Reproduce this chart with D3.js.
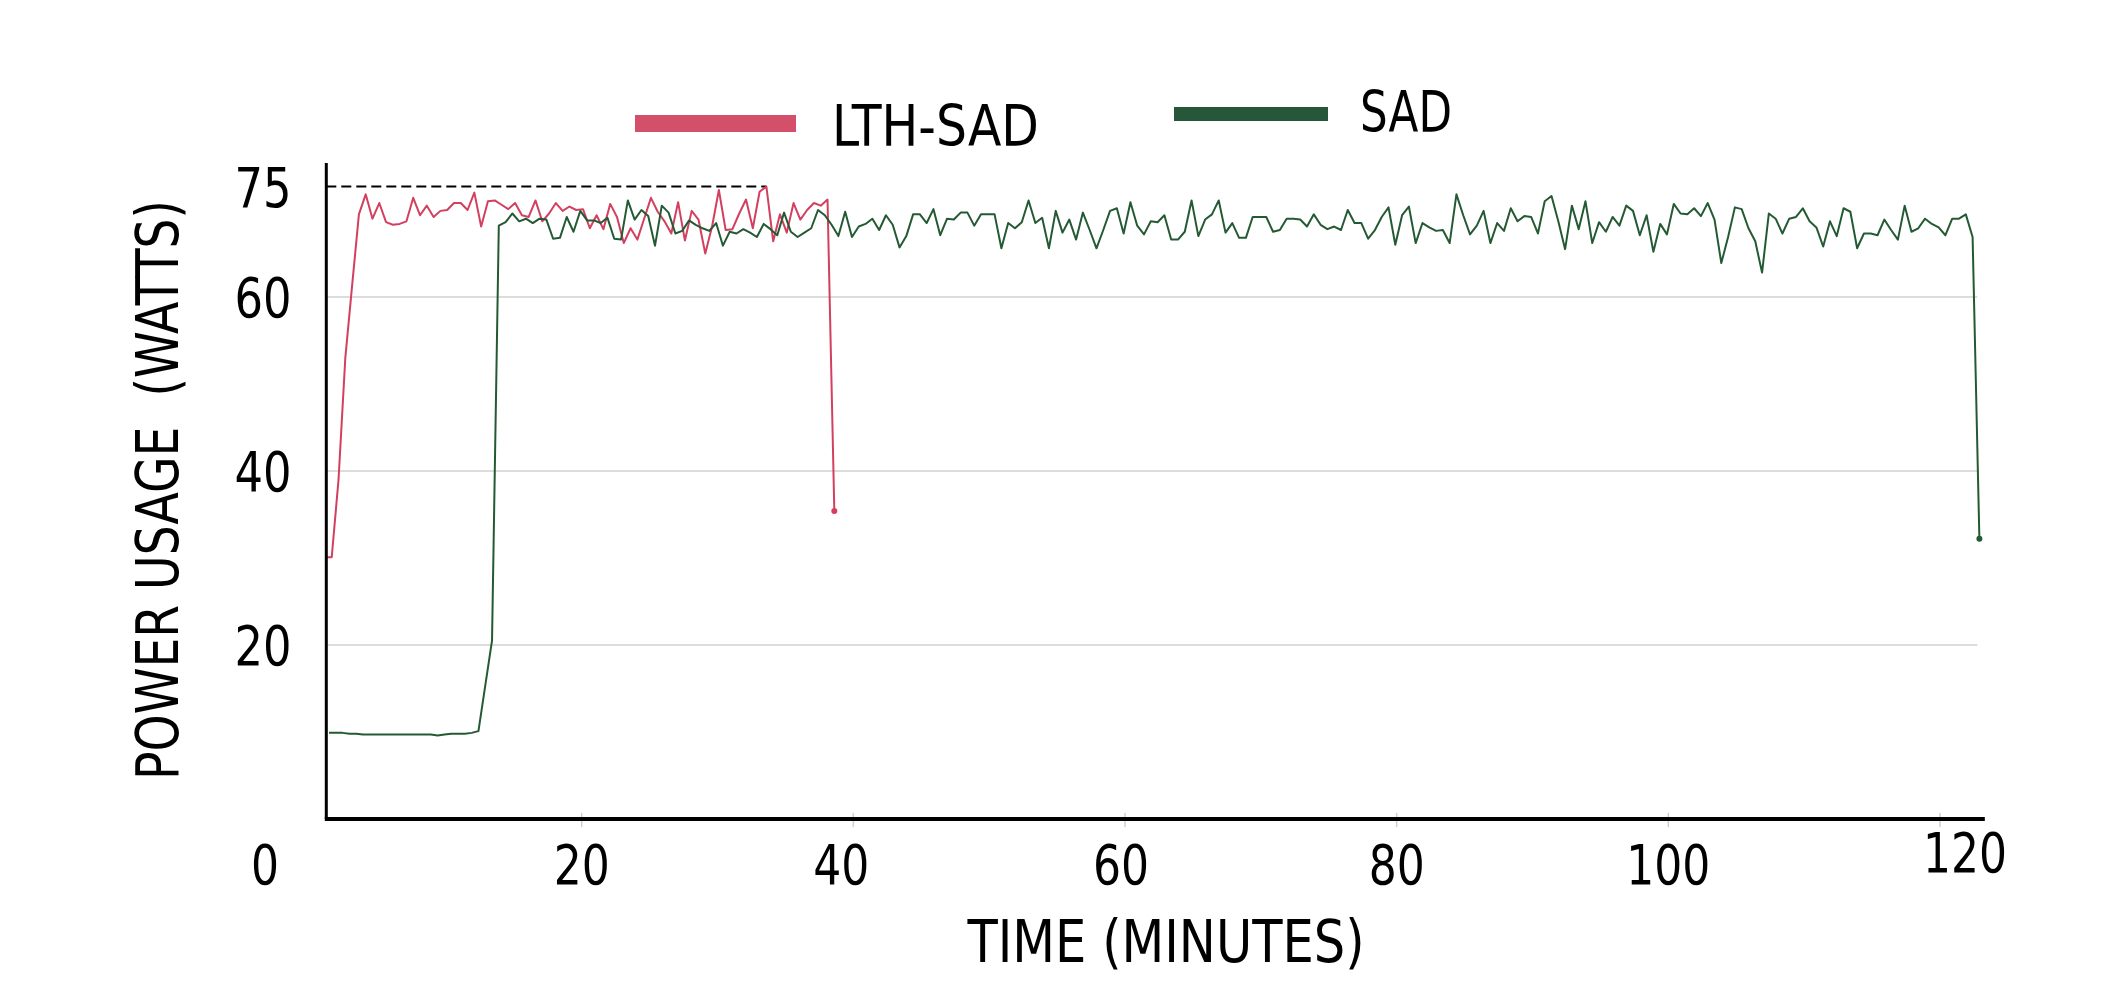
<!DOCTYPE html>
<html>
<head>
<meta charset="utf-8">
<script src="https://cdn.jsdelivr.net/npm/d3@7"></script>
<style>
  body { margin: 0; background: #fff; }
  text { fill: #000; }
</style>
</head>
<body>
<div id="chart"></div>
<script>
// ---- data ----
var sampleStep = 0.5;          // minutes between samples
var lthStart = 1.1;            // first LTH-SAD sample (minutes)
var sadStart = 1.4;            // first SAD sample (minutes)

var lthSad = [30.1, 30.1, 39, 53, 61.3,
  69.5, 71.8, 69.0, 70.8, 68.6, 68.3, 68.4, 68.7, 71.4, 69.4, 70.5, 69.2, 69.9, 70.0, 70.8, 70.8, 70.0, 72.0, 68.1, 71.0, 71.1, 70.6, 70.1, 70.8, 69.4, 69.2, 71.1,
  68.7, 69.6, 70.8, 69.9, 70.4, 70.0, 70.1, 67.9, 69.4, 67.8, 70.7, 69.2, 66.2, 67.9, 66.6, 69.0, 71.4, 69.8, 68.7, 67.3, 70.9, 66.5, 69.9, 68.9, 65.0, 68.1, 72.3, 67.7, 67.8, 69.6, 71.2,
  67.9, 72.1, 72.7, 66.4, 69.5, 67.4, 70.8, 68.9, 70.0, 70.8, 70.5, 71.2, 35.4];

var sad = [9.9, 9.9, 9.9, 9.8, 9.8, 9.7, 9.7, 9.7, 9.7, 9.7, 9.7, 9.7, 9.7, 9.7, 9.7, 9.7, 9.6, 9.7, 9.8, 9.8, 9.8, 9.9, 10.1,
  15.3, 20.5,
  68.2, 68.6, 69.6, 68.7, 69.0, 68.5,
  69.0, 68.9, 66.7, 66.8, 69.2, 67.5, 69.9, 68.8, 68.8, 68.5, 69.1, 66.7, 66.6, 71.1, 68.9, 70.0, 69.3, 65.9, 70.5, 69.7, 67.3, 67.6, 68.8, 68.3, 67.9, 67.6, 68.5, 65.9, 67.5, 67.3, 67.8,
  67.4, 66.9, 68.4, 67.8, 67.1, 69.7, 67.5, 66.9, 67.4, 67.9, 70.0, 69.4, 68.3, 67.0, 69.8, 66.9, 68.1, 68.4, 69.0, 67.7, 69.4, 68.3, 65.7, 67.0, 69.5, 69.5, 68.5, 70.1, 67.1, 69.0, 68.9,
  69.7, 69.7, 68.2, 69.5, 69.5, 69.5, 65.6, 68.5, 67.9, 68.6, 71.1, 68.5, 69.1, 65.6, 69.9, 67.4, 68.9, 66.6, 69.7, 67.7, 65.6, 67.7, 69.9, 70.2, 67.3, 70.9, 68.2, 67.2, 68.7, 68.6, 69.4,
  66.6, 66.6, 67.5, 71.1, 67.0, 68.9, 69.5, 71.1, 67.4, 68.5, 66.8, 66.8, 69.2, 69.2, 69.2, 67.5, 67.7, 69.0, 69.0, 68.9, 68.1, 69.5, 68.3, 67.8, 68.1, 67.7, 70.0, 68.5, 68.5, 66.7, 67.7,
  69.2, 70.3, 66.0, 69.4, 70.4, 66.2, 68.5, 68.0, 67.6, 67.7, 66.2, 71.8, 69.4, 67.2, 68.2, 69.9, 66.2, 68.5, 67.6, 70.2, 68.7, 69.3, 69.2, 67.3, 71.0, 71.6, 68.7, 65.5, 70.5, 67.8, 71.0,
  66.2, 68.6, 67.5, 69.2, 68.2, 70.5, 69.9, 67.1, 69.4, 65.2, 68.4, 67.2, 70.7, 69.6, 69.5, 70.2, 69.3, 70.8, 68.9, 63.9, 66.9, 70.3, 70.1, 67.9, 66.4, 62.8, 69.6, 69.0, 67.3, 69.0, 69.2,
  70.2, 68.7, 68.0, 65.8, 68.7, 67.0, 70.2, 69.8, 65.6, 67.3, 67.3, 67.1, 68.9, 67.7, 66.6, 70.5, 67.5, 67.9, 69.0, 68.4, 68.0, 67.1, 69.0, 69.0, 69.5, 66.9,
  32.2];

var xTicks = [0, 20, 40, 60, 80, 100, 120];
var yTicks = [20, 40, 60];
var capValue = 72.7;           // dashed limit line
var capLabel = "75";
var capEnd = 33.6;             // minutes where the dashed line stops
var seriesNames = ["LTH-SAD", "SAD"];
var seriesColors = ["#d4506a", "#27573a"];
var lineColors = ["#d3405f", "#245a33"];

// ---- layout ----
var W = 2103, H = 999;
var svg = d3.select("#chart").append("svg")
    .attr("width", W).attr("height", H);

var x = d3.scaleLinear().domain([0, 120]).range([310, 1940]);
var y = d3.scaleLinear().domain([0, 75]).range([819, 166.5]);

var xMin = 1.2, xMax = 123.3, gridEnd = 122.75, yTop = 75.4;

// label nudges, the picture's tick labels are not quite on their ticks
var xLabelShift = { 0: -45, 40: -12, 60: -4, 120: 25 };

// gridlines
svg.append("g").selectAll("line")
  .data(yTicks)
  .enter().append("line")
    .attr("x1", x(xMin)).attr("x2", x(gridEnd))
    .attr("y1", function(d){ return y(d); })
    .attr("y2", function(d){ return y(d); })
    .attr("stroke", "#dcdcdc").attr("stroke-width", 2);

// small x ticks
svg.append("g").selectAll("line")
  .data(xTicks.slice(1))
  .enter().append("line")
    .attr("x1", function(d){ return x(d); })
    .attr("x2", function(d){ return x(d); })
    .attr("y1", y(0) - 6).attr("y2", y(0) + 8)
    .attr("stroke", "#d0d0d0").attr("stroke-width", 1.5);

// dashed cap line
svg.append("line")
    .attr("x1", x(xMin)).attr("x2", x(capEnd))
    .attr("y1", y(capValue)).attr("y2", y(capValue))
    .attr("stroke", "#000").attr("stroke-width", 2)
    .attr("stroke-dasharray", "10,5");

// series
var series = [
  { name: seriesNames[0], start: lthStart, values: lthSad, color: lineColors[0] },
  { name: seriesNames[1], start: sadStart, values: sad, color: lineColors[1] }
];

series.forEach(function(s){
  var line = d3.line()
      .x(function(d, i){ return x(s.start + i * sampleStep); })
      .y(function(d){ return y(d); });
  svg.append("path")
    .attr("d", line(s.values))
    .attr("fill", "none")
    .attr("stroke", s.color)
    .attr("stroke-width", 2)
    .attr("stroke-linejoin", "round");
  var last = s.values.length - 1;
  svg.append("circle")
    .attr("cx", x(s.start + last * sampleStep))
    .attr("cy", y(s.values[last]))
    .attr("r", 3)
    .attr("fill", s.color);
});

// axes lines
svg.append("line")
    .attr("x1", x(xMin)).attr("x2", x(xMin))
    .attr("y1", y(0)).attr("y2", y(yTop))
    .attr("stroke", "#000").attr("stroke-width", 3);
svg.append("line")
    .attr("x1", x(xMin) - 1.5).attr("x2", x(xMax))
    .attr("y1", y(0)).attr("y2", y(0))
    .attr("stroke", "#000").attr("stroke-width", 4);

var numFont = "'Liberation Sans Narrow', 'DejaVu Sans Condensed', 'Liberation Sans', sans-serif";

// y tick labels
svg.append("g").selectAll("text")
  .data(yTicks.concat([capValue]))
  .enter().append("text")
    .attr("x", 263)
    .attr("y", function(d){ return y(d) + 20; })
    .attr("text-anchor", "middle")
    .attr("font-family", numFont)
    .attr("font-size", 56)
    .attr("textLength", 57)
    .attr("lengthAdjust", "spacingAndGlyphs")
    .text(function(d){ return d === capValue ? capLabel : d; });

// x tick labels
svg.append("g").selectAll("text")
  .data(xTicks)
  .enter().append("text")
    .attr("x", function(d){ return x(d) + (xLabelShift[d] || 0); })
    .attr("y", function(d){ return d === 120 ? 872 : 884; })
    .attr("text-anchor", "middle")
    .attr("font-family", numFont)
    .attr("font-size", 56)
    .attr("textLength", function(d){ return String(d).length * 28; })
    .attr("lengthAdjust", "spacingAndGlyphs")
    .text(function(d){ return d; });

// axis titles
svg.append("text")
    .attr("x", 1166).attr("y", 962)
    .attr("text-anchor", "middle")
    .attr("font-family", numFont)
    .attr("font-size", 58)
    .attr("textLength", 397)
    .attr("lengthAdjust", "spacingAndGlyphs")
    .text("TIME (MINUTES)");

svg.append("text")
    .attr("transform", "translate(178,490) rotate(-90)")
    .attr("text-anchor", "middle")
    .attr("font-family", "'DejaVu Sans', sans-serif")
    .attr("font-size", 58)
    .attr("textLength", 580)
    .attr("lengthAdjust", "spacingAndGlyphs")
    .style("white-space", "pre")
    .text("POWER USAGE  (WATTS)");

// legend
var legend = [
  { rx: 635, ry: 115, rw: 161, rh: 17, tx: 832, ty: 146, tw: 207 },
  { rx: 1174, ry: 107, rw: 154, rh: 14, tx: 1360, ty: 132, tw: 92 }
];
legend.forEach(function(l, i){
  svg.append("rect")
    .attr("x", l.rx).attr("y", l.ry)
    .attr("width", l.rw).attr("height", l.rh)
    .attr("fill", seriesColors[i]);
  svg.append("text")
    .attr("x", l.tx).attr("y", l.ty)
    .attr("font-family", numFont)
    .attr("font-size", 57)
    .attr("textLength", l.tw)
    .attr("lengthAdjust", "spacingAndGlyphs")
    .text(seriesNames[i]);
});
</script>
</body>
</html>
